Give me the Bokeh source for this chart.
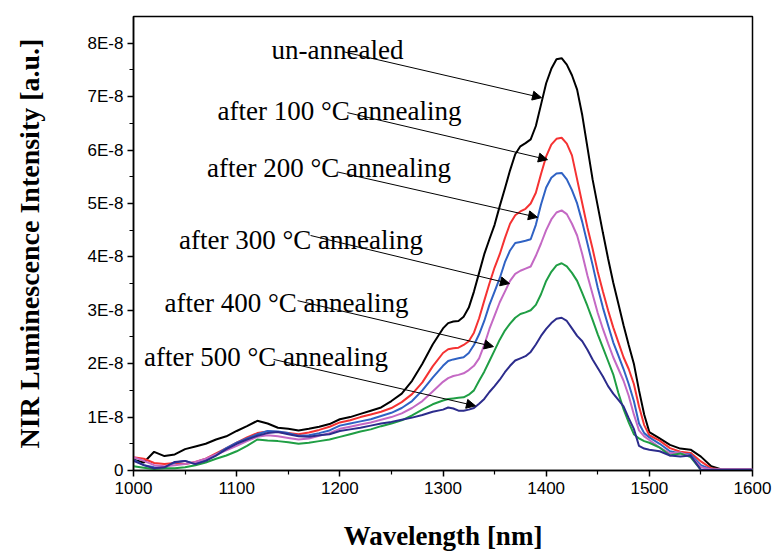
from bokeh.plotting import figure
from bokeh.models import (Range1d, FixedTicker, CustomJSTickFormatter, Label,
                          Arrow, NormalHead)
from bokeh.embed import file_html
from bokeh.resources import INLINE

# ---------------- data (intensity in units of 1E-8 a.u.) ----------------
wavelength = (list(range(1000, 1300, 10)) + list(range(1300, 1500, 5))
              + list(range(1500, 1601, 10)))

unannealed = [
    0.20, 0.15, 0.35, 0.27, 0.30, 0.40, 0.45, 0.50, 0.58, 0.64,
    0.74, 0.83, 0.93, 0.88, 0.80, 0.78, 0.75, 0.78, 0.82, 0.87,
    0.96, 1.00, 1.06, 1.12, 1.18, 1.30, 1.44, 1.68, 2.00, 2.36,
    2.66, 2.76, 2.79, 2.80, 2.88, 3.05, 3.35, 3.70, 4.05, 4.33,
    4.60, 4.95, 5.28, 5.62, 5.92, 6.07, 6.13, 6.20, 6.45, 6.85,
    7.25, 7.52, 7.70, 7.72, 7.60, 7.40, 7.13, 6.65, 6.05, 5.45,
    4.95, 4.45, 3.97, 3.52, 3.12, 2.72, 2.35, 2.00, 1.50, 1.05,
    0.72, 0.60, 0.48, 0.41, 0.39, 0.26, 0.08, 0.02, 0.02, 0.02, 0.02]

ann100 = [
    0.25, 0.22, 0.14, 0.12, 0.14, 0.12, 0.16, 0.22, 0.32, 0.42,
    0.52, 0.62, 0.70, 0.73, 0.72, 0.70, 0.68, 0.71, 0.76, 0.82,
    0.90, 0.94, 1.00, 1.05, 1.10, 1.17, 1.28, 1.43, 1.65, 1.95,
    2.20, 2.27, 2.29, 2.30, 2.35, 2.42, 2.58, 2.85, 3.18, 3.50,
    3.80, 4.05, 4.35, 4.62, 4.78, 4.85, 4.90, 5.00, 5.20, 5.55,
    5.88, 6.10, 6.21, 6.23, 6.12, 5.90, 5.45, 5.00, 4.55, 4.15,
    3.72, 3.35, 3.00, 2.68, 2.40, 2.12, 1.90, 1.62, 1.20, 0.85,
    0.66, 0.56, 0.42, 0.35, 0.33, 0.17, 0.04, 0.02, 0.02, 0.02, 0.02]

ann200 = [
    0.20, 0.10, 0.06, 0.05, 0.15, 0.18, 0.12, 0.20, 0.30, 0.42,
    0.52, 0.60, 0.68, 0.74, 0.73, 0.70, 0.65, 0.66, 0.70, 0.75,
    0.84, 0.88, 0.92, 0.96, 1.02, 1.08, 1.17, 1.30, 1.50, 1.74,
    1.96, 2.05, 2.08, 2.10, 2.12, 2.20, 2.35, 2.55, 2.80, 3.10,
    3.35, 3.60, 3.90, 4.12, 4.26, 4.28, 4.30, 4.33, 4.60, 4.98,
    5.30, 5.48, 5.56, 5.57, 5.45, 5.25, 5.00, 4.65, 4.25, 3.85,
    3.42, 3.05, 2.72, 2.40, 2.15, 1.90, 1.62, 1.30, 0.88, 0.70,
    0.62, 0.50, 0.36, 0.32, 0.30, 0.10, 0.02, 0.02, 0.02, 0.02, 0.02]

ann300 = [
    0.25, 0.18, 0.10, 0.08, 0.10, 0.12, 0.16, 0.22, 0.30, 0.38,
    0.46, 0.55, 0.63, 0.66, 0.64, 0.61, 0.58, 0.60, 0.65, 0.70,
    0.78, 0.82, 0.86, 0.90, 0.95, 1.00, 1.07, 1.17, 1.30, 1.48,
    1.66, 1.73, 1.77, 1.79, 1.82, 1.88, 1.96, 2.10, 2.35, 2.65,
    2.90, 3.15, 3.35, 3.55, 3.68, 3.74, 3.78, 3.82, 4.02, 4.25,
    4.50, 4.70, 4.83, 4.87, 4.80, 4.62, 4.40, 4.05, 3.65, 3.30,
    2.95, 2.65, 2.38, 2.12, 1.90, 1.68, 1.40, 1.05, 0.75, 0.64,
    0.57, 0.43, 0.32, 0.34, 0.27, 0.06, 0.02, 0.02, 0.02, 0.02, 0.02]

ann400 = [
    0.08, 0.05, 0.03, 0.04, 0.04, 0.06, 0.10, 0.15, 0.22, 0.28,
    0.36, 0.46, 0.58, 0.56, 0.55, 0.53, 0.50, 0.52, 0.55, 0.58,
    0.63, 0.68, 0.73, 0.77, 0.83, 0.88, 0.94, 1.03, 1.14, 1.24,
    1.31, 1.34, 1.35, 1.36, 1.37, 1.42, 1.50, 1.68, 1.85, 2.05,
    2.25, 2.45, 2.62, 2.75, 2.86, 2.93, 2.96, 3.00, 3.10, 3.30,
    3.55, 3.72, 3.84, 3.88, 3.82, 3.70, 3.55, 3.32, 3.08, 2.82,
    2.55, 2.30, 2.05, 1.80, 1.45, 1.15, 0.90, 0.68, 0.60, 0.55,
    0.52, 0.43, 0.28, 0.32, 0.25, 0.01, 0.01, 0.01, 0.01, 0.01, 0.01]

ann500 = [
    0.18, 0.10, 0.04, 0.06, 0.16, 0.18, 0.12, 0.18, 0.28, 0.40,
    0.50, 0.58, 0.65, 0.70, 0.72, 0.68, 0.64, 0.63, 0.66, 0.68,
    0.74, 0.77, 0.80, 0.84, 0.88, 0.91, 0.95, 0.99, 1.04, 1.10,
    1.14, 1.18, 1.16, 1.12, 1.12, 1.14, 1.17, 1.25, 1.34, 1.47,
    1.58, 1.70, 1.84, 1.96, 2.06, 2.10, 2.14, 2.22, 2.36, 2.52,
    2.65, 2.76, 2.84, 2.86, 2.80, 2.66, 2.52, 2.42, 2.26, 2.08,
    1.92, 1.76, 1.58, 1.44, 1.32, 1.20, 0.98, 0.78, 0.46, 0.41,
    0.39, 0.36, 0.28, 0.26, 0.28, 0.01, 0.01, 0.01, 0.01, 0.01, 0.01]

series_names = ["un-annealed", "after 100 °C annealing", "after 200 °C annealing",
                "after 300 °C annealing", "after 400 °C annealing",
                "after 500 °C annealing"]
series_values = [unannealed, ann100, ann200, ann300, ann400, ann500]
series_colors = ["#000000", "#f53232", "#2f62c4", "#c469c4", "#1f9e44", "#2c2c8c"]

x_ticks = [1000, 1100, 1200, 1300, 1400, 1500, 1600]
x_minor = [1050, 1150, 1250, 1350, 1450, 1550]
y_ticks = [0, 1, 2, 3, 4, 5, 6, 7, 8]
y_minor = [0.5, 1.5, 2.5, 3.5, 4.5, 5.5, 6.5, 7.5]

x_title = "Wavelength [nm]"
y_title = "NIR Luminescence Intensity [a.u.]"

# annotation placement: (text x, text baseline y, arrow start x, y, arrow end x, y)
annot = [
    (1197.7, 7.88, 1203.5, 7.84, 1395.5, 6.98),
    (1199.7, 6.73, 1207.4, 6.70, 1401.3, 5.82),
    (1189.5, 5.67, 1197.7, 5.59, 1391.6, 4.74),
    (1162.4, 4.31, 1171.6, 4.40, 1364.4, 3.50),
    (1148.3, 3.14, 1159.0, 3.18, 1348.9, 2.32),
    (1128.4, 2.12, 1135.7, 2.08, 1331.5, 1.21),
]

# ---------------- figure ----------------
p = figure(width=777, height=553, output_backend="svg", toolbar_location=None,
           x_range=Range1d(1000, 1600), y_range=Range1d(0, 8.5),
           min_border_left=133, min_border_right=25, min_border_top=16,
           min_border_bottom=82)
p.background_fill_color = "white"
p.border_fill_color = "white"
p.outline_line_color = "black"
p.outline_line_width = 1.5
p.outline_line_alpha = 1.0
p.xgrid.visible = False
p.ygrid.visible = False

for vals, col in zip(series_values, series_colors):
    p.line(wavelength, vals, line_color=col, line_width=2)

for ax in (p.xaxis[0], p.yaxis[0]):
    ax.axis_line_width = 1.5
    ax.axis_line_color = "black"
    ax.major_tick_line_color = "black"
    ax.minor_tick_line_color = "black"
    ax.major_tick_line_width = 1.5
    ax.minor_tick_line_width = 1.2
    ax.major_tick_in = 0
    ax.major_tick_out = 6
    ax.minor_tick_in = 0
    ax.minor_tick_out = 4
    ax.major_label_text_font = "Liberation Sans"
    ax.major_label_text_font_size = "17px"
    ax.major_label_text_color = "black"
    ax.axis_label_text_font = "Liberation Serif"
    ax.axis_label_text_font_style = "bold"
    ax.axis_label_text_color = "black"

p.xaxis.ticker = FixedTicker(ticks=x_ticks, minor_ticks=x_minor)
p.yaxis.ticker = FixedTicker(ticks=y_ticks, minor_ticks=y_minor)
p.yaxis.formatter = CustomJSTickFormatter(
    code="return tick == 0 ? '0' : tick.toFixed(0) + 'E-8';")
p.xaxis.major_label_standoff = 5
p.yaxis.major_label_standoff = 4

p.xaxis.axis_label = x_title
p.xaxis.axis_label_text_font_size = "27px"
p.xaxis.axis_label_standoff = 24
p.yaxis.axis_label = y_title
p.yaxis.axis_label_text_font_size = "28px"
p.yaxis.axis_label_standoff = 40

for (name, col), (tx, ty, xs, ys, xe, ye) in zip(zip(series_names, series_colors), annot):
    p.add_layout(Label(x=tx, y=ty, text=name, text_align="center",
                       text_baseline="alphabetic", text_font="Liberation Serif",
                       text_font_size="27px", text_color="black"))
    p.add_layout(Arrow(x_start=xs, y_start=ys, x_end=xe, y_end=ye,
                       line_color="black", line_width=1,
                       end=NormalHead(size=9, fill_color="black",
                                      line_color="black", line_width=1)))

open("out.html", "w").write(file_html(p, INLINE))
